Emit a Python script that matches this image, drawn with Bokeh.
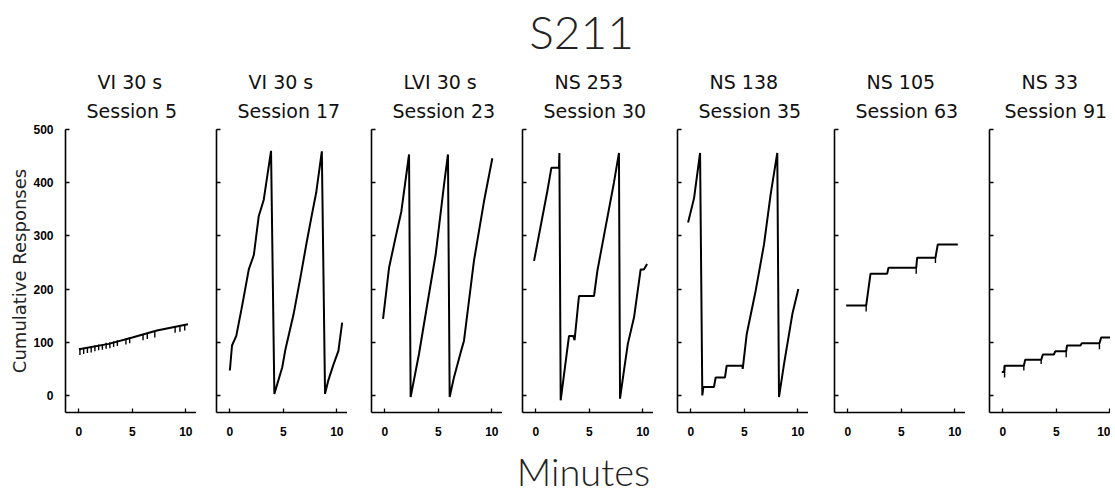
from bokeh.plotting import figure
from bokeh.models import Title, FixedTicker, Range1d
from bokeh.layouts import column, row
from bokeh.core.properties import value
from bokeh.embed import file_html
from bokeh.resources import INLINE

# ---------------- data ----------------
main_title = "S211"
x_title = "Minutes"
y_title = "Cumulative Responses"

schedules = ["VI 30 s", "VI 30 s", "LVI 30 s", "NS 253", "NS 138", "NS 105", "NS 33"]
sessions = ["Session 5", "Session 17", "Session 23", "Session 30",
            "Session 35", "Session 63", "Session 91"]

x_ticks = [0, 5, 10]
y_ticks = [0, 100, 200, 300, 400, 500]

# cumulative records: time (min) and cumulative responses (pen resets at ~460)
p1_t = [0.0, 2.8, 5.0, 7.3, 10.2]
p1_v = [87, 97, 109, 122, 134]

p2_t = [0.0, 0.2, 0.6, 1.15, 1.77, 2.24, 2.7, 3.17, 3.85, 4.16, 4.9, 5.2, 5.96,
        6.6, 7.2, 7.67, 8.07, 8.6, 8.9, 9.2, 9.7, 10.15, 10.5]
p2_v = [47, 94, 112, 169, 237, 264, 337, 368, 460, 3, 53, 87, 153,
        222, 290, 340, 381, 459, 3, 28, 59, 84, 137]

p3_t = [-0.17, 0.39, 1.0, 1.54, 2.26, 2.41, 3.19, 3.97, 4.75, 5.53, 5.9, 6.06,
        6.46, 7.09, 7.4, 8.33, 9.27, 10.05]
p3_v = [144, 240, 297, 346, 453, -3, 78, 172, 265, 396, 453, -3,
        34, 81, 103, 253, 365, 446]

p4_t = [-0.17, 1.07, 1.45, 2.16, 2.2, 2.32, 3.1, 3.5, 3.62, 4.03, 5.44, 5.75,
        6.53, 7.3, 7.77, 7.87, 8.24, 8.6, 9.18, 9.8, 10.1, 10.4]
p4_v = [253, 384, 428, 428, 456, -9, 112, 112, 104, 187, 187, 234,
        318, 400, 456, -6, 47, 97, 147, 237, 237, 247]

p5_t = [-0.26, 0.3, 0.86, 1.07, 1.17, 2.16, 2.32, 3.19, 3.35, 4.81, 4.85, 5.22,
        6.06, 6.84, 7.46, 8.08, 8.24, 8.71, 9.49, 10.05]
p5_v = [325, 371, 456, 0, 16, 16, 34, 34, 56, 56, 50, 115,
        197, 284, 378, 456, -3, 59, 153, 200]

p6_t = [-0.16, 1.71, 2.12, 3.68, 3.8, 6.39, 6.48, 8.19, 8.41, 10.28]
p6_v = [169, 169, 229, 229, 240, 240, 259, 259, 284, 284]

p7_t = [-0.1, 0.12, 0.16, 1.96, 2.09, 3.58, 3.74, 4.77, 4.9, 5.92, 6.0, 7.26,
        7.38, 9.03, 9.19, 10.5]
p7_v = [44, 44, 56, 56, 67, 67, 77, 77, 83, 83, 94, 94,
        98, 98, 109, 109]

# reinforcement pips: time, value at pen, value at pip end
p1_pip_t = [0.1, 0.45, 0.8, 1.15, 1.5, 1.85, 2.2, 2.55, 2.9, 3.25, 3.6, 4.4,
            4.75, 6.0, 6.4, 7.1, 9.0, 9.45, 9.9]
p1_pip_v = [87, 89, 91, 92, 94, 96, 97, 99, 100, 102, 104, 107,
            109, 115, 117, 120, 129, 131, 133]
p1_pip_e = [76, 78, 80, 81, 83, 85, 86, 88, 89, 91, 93, 96,
            98, 104, 106, 109, 118, 120, 122]

p6_pip_t = [1.71, 6.39, 8.19]
p6_pip_v = [169, 240, 259]
p6_pip_e = [158, 229, 249]

p7_pip_t = [0.16, 1.96, 3.58, 5.92, 9.03]
p7_pip_v = [56, 56, 67, 83, 98]
p7_pip_e = [34, 47, 59, 72, 87]

records = [(p1_t, p1_v), (p2_t, p2_v), (p3_t, p3_v), (p4_t, p4_v),
           (p5_t, p5_v), (p6_t, p6_v), (p7_t, p7_v)]
pips = {0: (p1_pip_t, p1_pip_v, p1_pip_e),
        5: (p6_pip_t, p6_pip_v, p6_pip_e),
        6: (p7_pip_t, p7_pip_v, p7_pip_e)}

# ---------------- layout / style ----------------
X0, X1 = -1.25, 11.0
Y0, Y1 = -32, 500
FRAME_W = 131
FRAME_H = 283
PX_PER_MIN = FRAME_W / (X1 - X0)
border_left = [65, 20, 24, 20, 24, 26, 24]
frame_w = [131, 131, 131, 131, 131, 131, 121]
session_offset = [21, 21, 21, 21, 21, 21, 15]
PAGE_W = 1110
TOP_H = 61
BOT_H = 54

TITLE_FONT = "DejaVu Sans"
THIN_FONT = "DejaVu Sans ExtraLight, Lato Light, DejaVu Sans"
TICK_FONT = "Liberation Sans"


def make_panel(i):
    fw = frame_w[i]
    p = figure(frame_width=fw, frame_height=FRAME_H,
               x_range=Range1d(X0, X0 + fw / PX_PER_MIN),
               y_range=Range1d(Y0, Y1),
               output_backend="svg", toolbar_location=None,
               min_border_left=border_left[i], min_border_right=0,
               min_border_top=68, min_border_bottom=30,
               outline_line_color=None,
               background_fill_color="white", border_fill_color="white")
    p.grid.visible = False

    for ax in (p.xaxis[0], p.yaxis[0]):
        ax.axis_line_color = "black"
        ax.axis_line_width = 1.6
        ax.major_tick_line_color = "black"
        ax.major_tick_line_width = 1.3
        ax.major_tick_in = 4
        ax.major_tick_out = 0
        ax.minor_tick_line_color = None
        ax.major_label_text_font = TICK_FONT
        ax.major_label_text_font_style = "bold"
        ax.major_label_text_font_size = "12px"
        ax.major_label_text_color = "black"
    p.xaxis[0].ticker = FixedTicker(ticks=x_ticks)
    p.yaxis[0].ticker = FixedTicker(ticks=y_ticks)
    p.xaxis[0].major_label_standoff = 14

    if i == 0:
        p.yaxis[0].major_label_standoff = 12
        p.yaxis[0].axis_label = y_title
        p.yaxis[0].axis_label_text_font = TITLE_FONT
        p.yaxis[0].axis_label_text_font_style = "normal"
        p.yaxis[0].axis_label_text_font_size = "18px"
        p.yaxis[0].axis_label_text_color = "#222222"
        p.yaxis[0].axis_label_standoff = 0
    else:
        p.yaxis[0].major_label_text_color = None
        p.yaxis[0].major_label_standoff = 0

    t, v = records[i]
    p.line(t, v, line_color="black", line_width=2.0)

    if i in pips:
        pt, pv, pe = pips[i]
        p.segment(x0=pt, y0=pv, x1=pt, y1=pe, line_color="black", line_width=1.4)

    p.add_layout(Title(text=sessions[i], align="left", offset=session_offset[i],
                       standoff=15, text_font=TITLE_FONT, text_font_size="19px",
                       text_font_style="normal", text_color="#111111"), "above")
    p.add_layout(Title(text=schedules[i], align="left", offset=32, standoff=-5,
                       text_font=TITLE_FONT, text_font_size="19px",
                       text_font_style="normal", text_color="#111111"), "above")
    return p


panels = [make_panel(i) for i in range(7)]


def text_strip(height, text, x, y, size):
    f = figure(width=PAGE_W, height=height,
               x_range=Range1d(0, PAGE_W), y_range=Range1d(0, height),
               output_backend="svg", toolbar_location=None,
               x_axis_location=None, y_axis_location=None,
               min_border=0, outline_line_color=None,
               background_fill_color="white", border_fill_color="white")
    f.grid.visible = False
    f.text(x=[x], y=[y], text=[text], text_align="center",
           text_baseline="middle", text_font=value(THIN_FONT),
           text_font_size=size, text_color="#222222")
    return f


top = text_strip(TOP_H, main_title, 581, 30, "46px")
bottom = text_strip(BOT_H, x_title, 583, 26, "38px")

layout = column(top, row(*panels, spacing=0), bottom, spacing=0)

open("out.html", "w").write(file_html(layout, INLINE))
